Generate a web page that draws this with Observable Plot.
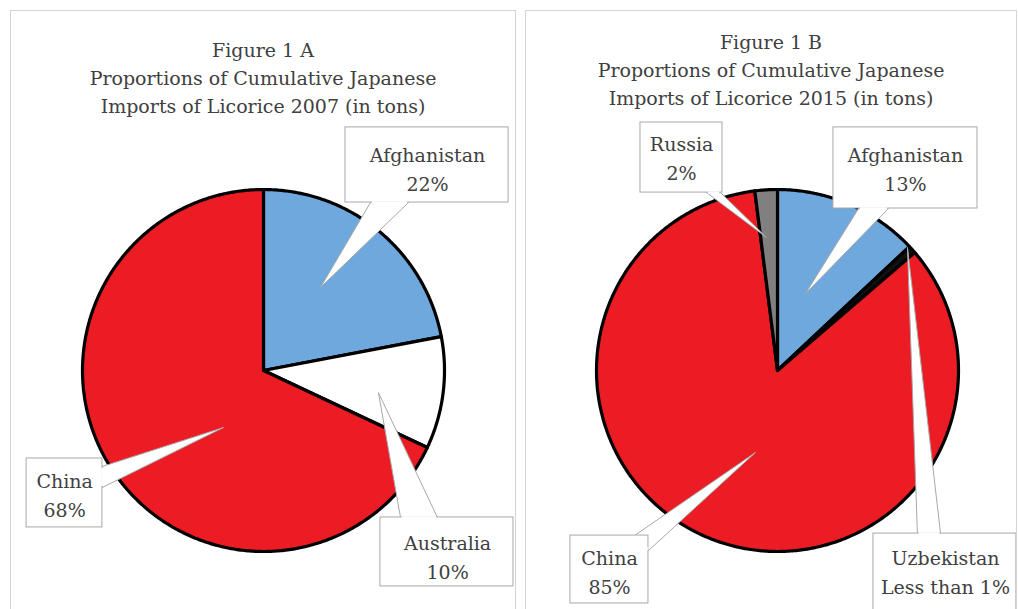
<!DOCTYPE html>
<html><head><meta charset="utf-8">
<script src="https://cdn.jsdelivr.net/npm/d3@7"></script>
<script src="https://cdn.jsdelivr.net/npm/@observablehq/plot@0.6"></script>
<style>
body{margin:0;width:1018px;height:609px;overflow:hidden;background:#fff;position:relative;font-family:"DejaVu Serif",serif;color:#404040}
.panel{position:absolute;border:1px solid #d4d4d4;box-sizing:border-box}
.title{position:absolute;text-align:center;font-size:19px;line-height:28px;white-space:nowrap}
.chart{position:absolute}
</style></head><body>
<div class="panel" style="left:10px;top:10px;width:506px;height:700px"></div>
<div class="panel" style="left:525px;top:10px;width:492px;height:700px"></div>
<div class="title" id="t1" style="left:11px;top:36px;width:504px"></div>
<div class="title" id="t2" style="left:526px;top:28px;width:490px"></div>
<div class="chart" id="c1" style="left:11px;top:118px"></div>
<div class="chart" id="c2" style="left:526px;top:118px"></div>
<script>
// ---- data ----
const leftCountries = ["Afghanistan", "Australia", "China"];
const leftShares = [22, 10, 68];
const leftLabels = ["22%", "10%", "68%"];
const rightCountries = ["Afghanistan", "Uzbekistan", "China", "Russia"];
const rightShares = [13, 0.7, 84.3, 2];
const rightLabels = ["13%", "Less than 1%", "85%", "2%"];
const leftTitle = ["Figure 1 A", "Proportions of Cumulative Japanese", "Imports of Licorice 2007 (in tons)"];
const rightTitle = ["Figure 1 B", "Proportions of Cumulative Japanese", "Imports of Licorice 2015 (in tons)"];
const colorDomain = ["Afghanistan", "Australia", "China", "Russia", "Uzbekistan"];
const colorRange = ["#6ea8dc", "#ffffff", "#ec1c24", "#808080", "#111111"];

// ---- callout layout (in pie-radius units, y up) ----
const leftCallouts = [
  {country:"Afghanistan", box:[0.453,1.354,0.928,1.343], base:[[0.591,0.928],[0.801,0.928]], tip:[0.315,0.459], text:[0.906,1.122]},
  {country:"Australia", box:[0.646,1.381,-1.193,-0.812], base:[[0.757,-0.812],[0.961,-0.812]], tip:[0.635,-0.122], text:[1.017,-1.022]},
  {country:"China", box:[-1.309,-0.890,-0.867,-0.486], base:[[-0.890,-0.530],[-0.890,-0.646]], tip:[-0.221,-0.315], text:[-1.099,-0.680]}
];
const rightCallouts = [
  {country:"Russia", box:[-0.757,-0.304,0.983,1.370], base:[[-0.392,0.983],[-0.315,0.983]], tip:[-0.061,0.735], text:[-0.530,1.182]},
  {country:"Afghanistan", box:[0.309,1.105,0.895,1.343], base:[[0.448,0.895],[0.613,0.895]], tip:[0.155,0.425], text:[0.707,1.122]},
  {country:"Uzbekistan", box:[0.530,1.320,-1.381,-0.901], base:[[0.773,-0.901],[0.901,-0.901]], tip:[0.718,0.680], text:[0.928,-1.105]},
  {country:"China", box:[-1.144,-0.713,-1.287,-0.912], base:[[-0.790,-0.912],[-0.713,-0.995]], tip:[-0.122,-0.453], text:[-0.928,-1.105]}
];

function slicePoints(countries, shares) {
  const arcs = d3.pie().sort(null).value(d => d)(shares);
  const pts = [];
  arcs.forEach((a, i) => {
    const c = countries[i];
    pts.push({country: c, x: 0, y: 0});
    const n = Math.max(2, Math.ceil((a.endAngle - a.startAngle) / 0.01));
    for (let k = 0; k <= n; k++) {
      const t = a.startAngle + (a.endAngle - a.startAngle) * k / n;
      pts.push({country: c, x: Math.sin(t), y: Math.cos(t)});
    }
    pts.push({country: c, x: 0, y: 0});
  });
  return pts;
}

function drawPie(el, countries, shares, labels, callouts, W, H, cx, cy, R) {
  const slices = slicePoints(countries, shares);
  const tri = [], boxes = [], bases = [], texts = [];
  callouts.forEach((c, i) => {
    const [b1, b2] = c.base;
    [b1, c.tip, b2, b1].forEach(p => tri.push({id: i, x: p[0], y: p[1]}));
    boxes.push({x1: c.box[0], x2: c.box[1], y1: c.box[2], y2: c.box[3]});
    const dx = b2[0] - b1[0], dy = b2[1] - b1[1], L = Math.hypot(dx, dy), e = 1.2 / R;
    bases.push({x1: b1[0] + dx / L * e, y1: b1[1] + dy / L * e, x2: b2[0] - dx / L * e, y2: b2[1] - dy / L * e});
    const idx = countries.indexOf(c.country);
    texts.push({x: c.text[0], y: c.text[1], t: c.country + "\n" + labels[idx]});
  });
  const chart = Plot.plot({
    width: W, height: H, margin: 0,
    x: {domain: [-cx / R, (W - cx) / R], axis: null},
    y: {domain: [-(H - cy) / R, cy / R], axis: null},
    color: {type: "ordinal", domain: colorDomain, range: colorRange},
    marks: [
      Plot.line(slices, {x: "x", y: "y", z: "country", fill: "country", stroke: "#000", strokeWidth: 3.2, strokeLinejoin: "round", curve: "linear"}),
      Plot.line(tri, {x: "x", y: "y", z: "id", fill: "white", stroke: "#a8a8a8", strokeWidth: 1, curve: "linear"}),
      Plot.rect(boxes, {x1: "x1", x2: "x2", y1: "y1", y2: "y2", fill: "white", stroke: "#a8a8a8", strokeWidth: 1}),
      Plot.link(bases, {x1: "x1", y1: "y1", x2: "x2", y2: "y2", stroke: "white", strokeWidth: 2.5}),
      Plot.text(texts, {x: "x", y: "y", text: "t", fontSize: 19, lineHeight: 1.5, fill: "#404040", fontFamily: "DejaVu Serif", lineAnchor: "middle"})
    ]
  });
  document.getElementById(el).appendChild(chart);
}

document.getElementById("t1").innerHTML = leftTitle.join("<br>");
document.getElementById("t2").innerHTML = rightTitle.join("<br>");
drawPie("c1", leftCountries, leftShares, leftLabels, leftCallouts, 504, 491, 252, 252, 181);
drawPie("c2", rightCountries, rightShares, rightLabels, rightCallouts, 490, 491, 251, 252, 181);
</script>
</body></html>
